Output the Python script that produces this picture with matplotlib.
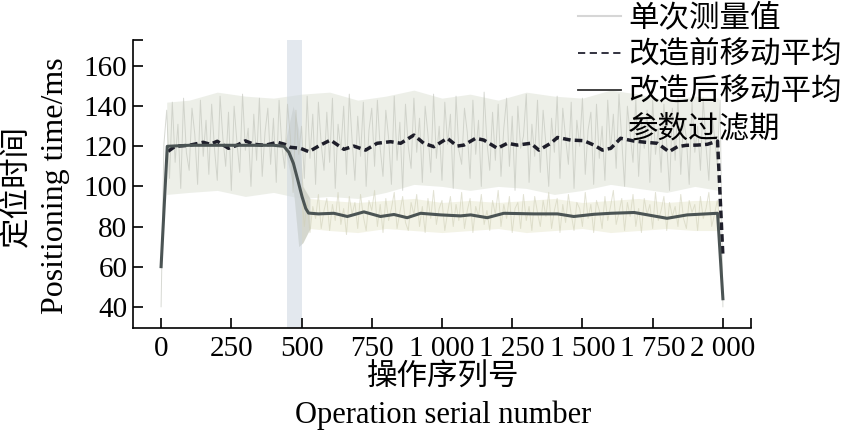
import numpy as np
import matplotlib.pyplot as plt
from matplotlib.lines import Line2D
from matplotlib.patches import Patch

plt.rcParams['font.family'] = ['Liberation Serif', 'Noto Sans CJK SC']

# ejes y etiquetas
x_ticks = [0, 250, 500, 750, 1000, 1250, 1500, 1750, 2000]
x_ticklabels = ['0', '250', '500', '750', '1 000', '1 250', '1 500', '1 750', '2 000']
y_ticks = [40, 60, 80, 100, 120, 140, 160]
legend_labels = ['单次测量值', '改造前移动平均', '改造后移动平均', '参数过滤期']

# valores individuales (cada 10 operaciones)
meas_x = np.arange(0, 2010, 10)
meas_before = [40, 121, 138, 104, 142, 112, 131, 99, 144, 117, 108, 139, 126, 101, 143, 115, 133, 106, 141, 119,
               103, 145, 124, 110, 137, 98, 140, 122, 107, 146, 118, 129, 100, 136, 113, 144, 105, 127, 139, 111,
               134, 102, 143, 120, 109, 141, 125, 97, 138, 116, 130, 104, 145, 114, 136, 101, 142, 121, 108, 137,
               112, 144, 99, 131, 118, 140, 106, 146, 123, 103, 135, 115, 142, 100, 128, 139, 110, 143, 119, 105,
               138, 124, 101, 145, 113, 132, 98, 141, 120, 109, 144, 117, 134, 102, 140, 126, 107, 146, 114, 130,
               103, 142, 121, 136, 99, 145, 118, 111, 139, 127, 104, 143, 116, 133, 100, 147, 122, 108, 137, 113,
               141, 105, 129, 144, 110, 135, 98, 140, 119, 125, 146, 102, 131, 115, 143, 107, 138, 121, 100, 134,
               117, 145, 104, 139, 124, 111, 142, 99, 133, 120, 144, 106, 128, 137, 101, 141, 114, 130, 103, 143,
               118, 136, 109, 146, 123, 100, 140, 126, 112, 144, 105, 132, 119, 138, 102, 143, 116, 129, 107, 141,
               121, 98, 139, 113, 145, 106, 134, 124, 101, 142, 117, 130, 108, 144, 120, 103, 137, 125, 111, 143,
               40]
meas_after_x = np.arange(500, 2000, 10)
meas_after = [97, 80, 93, 77, 90, 84, 96, 79, 88, 94, 78, 91, 83, 97, 81, 89, 76, 95, 86, 92,
              79, 96, 85, 78, 93, 88, 98, 80, 91, 77, 94, 83, 89, 97, 79, 87, 95, 82, 78, 92,
              86, 96, 80, 90, 77, 94, 84, 98, 81, 89, 93, 78, 87, 95, 80, 91, 83, 97, 79, 88,
              94, 77, 90, 85, 96, 81, 88, 78, 93, 86, 98, 80, 91, 84, 95, 77, 89, 92, 79, 96,
              83, 90, 78, 95, 87, 80, 93, 85, 97, 79, 88, 94, 77, 91, 82, 96, 86, 78, 92, 89,
              80, 97, 84, 91, 77, 93, 88, 79, 95, 83, 90, 98, 81, 87, 94, 78, 92, 85, 96, 80,
              89, 77, 94, 86, 91, 79, 97, 83, 88, 95, 78, 92, 85, 90, 80, 96, 84, 79, 93, 87,
              91, 78, 95, 84, 89, 97, 80, 86, 93, 82]

# bandas de dispersion
band_x = [20, 100, 200, 300, 400, 500, 600, 700, 800, 900, 1000, 1100, 1200, 1300, 1400, 1500, 1600, 1700, 1800, 1900, 1985]
before_hi = [142, 143, 147, 145, 144, 146, 147, 143, 145, 148, 144, 146, 143, 147, 145, 144, 148, 146, 143, 145, 144]
before_lo = [96, 97, 98, 95, 97, 94, 95, 94, 97, 101, 100, 98, 100, 99, 96, 98, 101, 99, 97, 100, 98]
after_band_x = [440, 470, 490, 505, 530, 600, 700, 800, 900, 1000, 1100, 1200, 1300, 1400, 1500, 1600, 1700, 1800, 1900, 1985]
after_hi = [121, 140, 128, 100, 94, 93, 92, 93, 94, 92, 93, 92, 93, 94, 92, 93, 94, 92, 93, 93]
after_lo = [119, 100, 70, 72, 79, 78, 77, 79, 78, 77, 78, 79, 77, 78, 79, 77, 78, 79, 78, 78]
lens_x = [440, 470, 490, 505, 530]
lens_hi = [121, 140, 128, 100, 94]
lens_lo = [119, 100, 70, 72, 79]

# medias moviles
ma_before_x = [25, 50, 100, 150, 175, 200, 240, 270, 300, 330, 370, 414, 440, 460, 496, 526, 567, 603, 651, 686,
               728, 769, 817, 853, 900, 935, 971, 1019, 1054, 1078, 1120, 1149, 1197, 1233, 1268, 1316, 1345, 1387,
               1411, 1458, 1505, 1541, 1571, 1601, 1636, 1684, 1725, 1767, 1808, 1838, 1870, 1909, 1945, 1981, 2000]
ma_before_y = [117.5, 120, 120.5, 122, 121, 122.5, 119, 120.5, 122.7, 121, 120.5, 122, 121, 119.5, 119, 117.3, 120.6,
               123.1, 118.5, 120.1, 118.1, 121.5, 122.3, 121.5, 125.6, 121.5, 119.8, 124, 120.1, 120.6, 124, 123.1,
               119, 121.5, 120.6, 121.5, 118.1, 121.5, 124.4, 123.1, 122.8, 120.6, 118.1, 119, 124, 122.6, 122, 121.5,
               117.3, 119.8, 120.5, 120.6, 121, 122.6, 65]
ma_after_x = [0, 22, 100, 200, 300, 400, 437, 455, 471, 487, 502, 515, 525, 560, 615, 663, 722, 781, 829, 876,
              924, 995, 1066, 1102, 1161, 1220, 1327, 1411, 1469, 1541, 1601, 1684, 1801, 1873, 1981, 2000]
ma_after_y = [60, 120, 120.5, 120.5, 120.5, 120.5, 120, 117, 111.5, 103, 94.8, 89, 86.7, 86.3, 86.6, 85, 87.3, 85,
              86, 84.4, 86.6, 85.8, 85.3, 85.8, 84.4, 86.6, 86.3, 86.3, 85, 86.1, 86.6, 87, 84.1, 85.8, 86.6, 44]
filter_period = (450, 500)

fig = plt.figure(figsize=(8.46, 4.38), dpi=100)
ax = fig.add_axes([0.1572, 0.2511, 0.7305, 0.6576])

ax.fill_between(band_x, before_lo, before_hi, color='#e1e5da', alpha=0.6, lw=0)
ax.fill_between(after_band_x, after_lo, after_hi, color='#ecebd6', alpha=0.6, lw=0)
ax.fill_between(lens_x, lens_lo, lens_hi, color='#b9bdb8', alpha=0.5, lw=0)
ax.plot(meas_x, meas_before, color='#c2c5bc', lw=0.7, alpha=0.65)
ax.plot(meas_after_x, meas_after, color='#d0d0b8', lw=0.7, alpha=0.6)
ax.axvspan(filter_period[0], filter_period[1], color='#cdd6e0', alpha=0.55, lw=0)
ax.plot(ma_before_x, ma_before_y, color='#1e1e2a', lw=2.5, ls=(0, (2.2, 1.2)))
ax.plot(ma_after_x, ma_after_y, color='#4b5454', lw=2.2)

ax.set_xlim(-100, 2100)
ax.set_ylim(29.4, 173)
ax.set_xticks(x_ticks)
ax.set_xticklabels(x_ticklabels)
ax.set_yticks(y_ticks)
ax.set_xticks([2100], minor=True)
ax.set_yticks([173], minor=True)
ax.tick_params(which='both', direction='in', length=7, width=1.2, labelsize=21)
ax.tick_params(axis='x', pad=6)
ax.tick_params(axis='y', pad=4)
ax.spines['top'].set_visible(False)
ax.spines['right'].set_visible(False)
ax.spines['left'].set_linewidth(1.2)
ax.spines['bottom'].set_linewidth(1.2)

fig.text(0.5236, 0.137, '操作序列号', ha='center', va='center', fontsize=22)
fig.text(0.5236, 0.0525, 'Operation serial number', ha='center', va='center', fontsize=22)
fig.text(0.021, 0.575, '定位时间', ha='center', va='center', rotation=90, fontsize=22)
fig.text(0.066, 0.575, 'Positioning time/ms', ha='center', va='center', rotation=90, fontsize=23)

handles = [Line2D([], [], color='#d6d6d6', lw=1.5),
           Line2D([], [], color='#222230', lw=1.3, ls=(0, (4, 2.5))),
           Line2D([], [], color='#333333', lw=1.3),
           Patch(facecolor='none', edgecolor='none')]
fig.legend(handles, legend_labels, loc='upper left', bbox_to_anchor=(0.683, 0.99), frameon=False,
           fontsize=22, handlelength=1.4, handletextpad=0.25, labelspacing=0.26, borderpad=0, borderaxespad=0)

fig.savefig('out.png', dpi=100)
